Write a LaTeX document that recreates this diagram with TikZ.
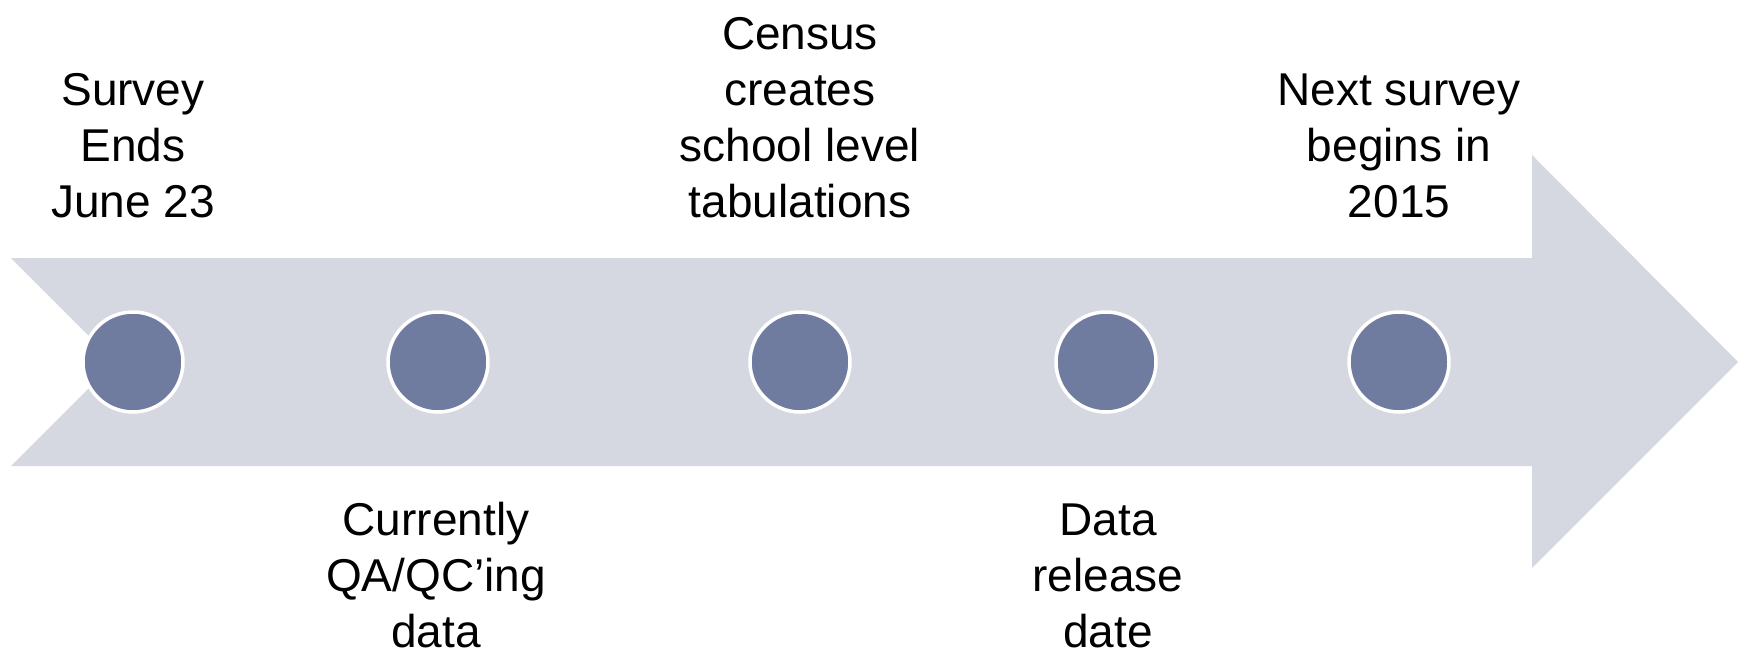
\documentclass[tikz,border=0pt]{standalone}
\usepackage{fontspec}
\setmainfont{Liberation Sans}
\definecolor{band}{RGB}{213,216,225}
\definecolor{dot}{RGB}{112,123,160}
\begin{document}
\begin{tikzpicture}[x=1pt,y=-1pt,
  dotnode/.style={circle,fill=dot,draw=white,line width=3.5pt,minimum size=100pt,inner sep=0pt},
  label/.style={align=center,inner sep=0pt,font=\fontsize{46}{56}\selectfont,text=black}]
\useasboundingbox (0,0) rectangle (1743,653);
\fill[band] (11,258) -- (1532,258) -- (1532,155) -- (1738,362) -- (1532,568)
  -- (1532,466) -- (11,466) -- (115,362) -- cycle;
\node[dotnode] (c1) at (133,362) {};
\node[dotnode] (c2) at (438,362) {};
\node[dotnode] (c3) at (800,362) {};
\node[dotnode] (c4) at (1106,362) {};
\node[dotnode] (c5) at (1399,362) {};
\node[label,anchor=base] (t1) at (133,217) {Survey\\Ends\\June 23};
\node[label,anchor=base] (t3) at (800,217) {Census\\creates\\school level\\tabulations};
\node[label,anchor=base] (t5) at (1399,217) {Next survey\\begins in\\2015};
\node[label,anchor=base] (t2) at (436,647) {Currently\\QA/QC’ing\\data};
\node[label,anchor=base] (t4) at (1108,647) {Data\\release\\date};
\end{tikzpicture}
\end{document}
